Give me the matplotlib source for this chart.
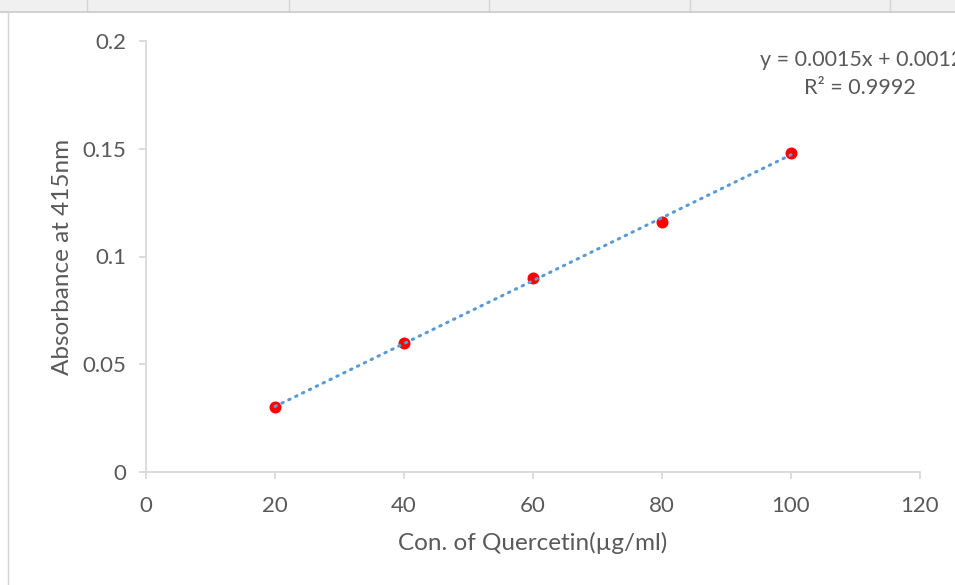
import numpy as np
import matplotlib
matplotlib.use("Agg")
import matplotlib.pyplot as plt
from matplotlib.patches import Rectangle
from matplotlib.lines import Line2D

# data
conc = [20, 40, 60, 80, 100]
absorbance = [0.030, 0.060, 0.090, 0.116, 0.148]
x_ticks = [0, 20, 40, 60, 80, 100, 120]
y_ticks = [0, 0.05, 0.1, 0.15, 0.2]
y_tick_labels = ["0", "0.05", "0.1", "0.15", "0.2"]

plt.rcParams['font.family'] = ['Lato', 'DejaVu Sans']
text_col = '#595959'
axis_col = '#d9d9d9'

W, H = 955, 585
fig = plt.figure(figsize=(W / 100, H / 100), dpi=100)

# spreadsheet frame behind the chart
fig.patches.append(Rectangle((0, 1 - 11 / H), 1, 11 / H, transform=fig.transFigure,
                             facecolor='#f0f0f0', edgecolor='none', zorder=0))
for cx in [87, 289, 489, 690, 890]:
    fig.lines.append(Line2D([cx / W, cx / W], [1 - 11 / H, 1], transform=fig.transFigure,
                            color='#d4d4d4', lw=1))
fig.lines.append(Line2D([0, 1], [1 - 11.5 / H] * 2, transform=fig.transFigure,
                        color='#c8c8c8', lw=1.2))
fig.lines.append(Line2D([8 / W, 8 / W], [0, 1 - 11.5 / H], transform=fig.transFigure,
                        color='#d4d4d4', lw=1))

ax = fig.add_axes([146 / W, 1 - 472 / H, (920 - 146) / W, (472 - 41) / H])
ax.set_xlim(0, 120)
ax.set_ylim(0, 0.2)

ax.scatter(conc, absorbance, s=58, color='#ff0000', zorder=3, clip_on=False)

# linear trendline
slope, intercept = np.polyfit(conc, absorbance, 1)
fx = np.array([min(conc), max(conc)])
ax.plot(fx, slope * fx + intercept, color='#5b9bd5', lw=2.2,
        linestyle=(0, (0.5, 2.0)), dash_capstyle='round', zorder=4)

pred = slope * np.array(conc) + intercept
ss_res = np.sum((np.array(absorbance) - pred) ** 2)
ss_tot = np.sum((np.array(absorbance) - np.mean(absorbance)) ** 2)
r2 = 1 - ss_res / ss_tot

# the equation label runs past the right edge in the original screenshot
fig.text(862 / W, 1 - 60 / H, f"y = {slope:.4f}x + {intercept:.4f}", ha='center', va='center',
         fontsize=15.5, color=text_col)
fig.text(860 / W, 1 - 88 / H, f"R² = {r2:.4f}", ha='center', va='center',
         fontsize=15.5, color=text_col)

for side in ['top', 'right']:
    ax.spines[side].set_visible(False)
for side in ['left', 'bottom']:
    ax.spines[side].set_color(axis_col)
    ax.spines[side].set_linewidth(1.3)

ax.set_xticks(x_ticks)
ax.set_yticks(y_ticks)
ax.set_yticklabels(y_tick_labels)
ax.tick_params(axis='both', colors=axis_col, labelcolor=text_col, labelsize=16,
               length=5, width=1.3, direction='out')
ax.tick_params(axis='x', pad=12)
ax.tick_params(axis='y', pad=9)

ax.set_xlabel("Con. of Quercetin(µg/ml)", fontsize=17.5, color=text_col, labelpad=12)
ax.set_ylabel("Absorbance at 415nm", fontsize=17.5, color=text_col, labelpad=7)

fig.savefig("out.png", dpi=100)
